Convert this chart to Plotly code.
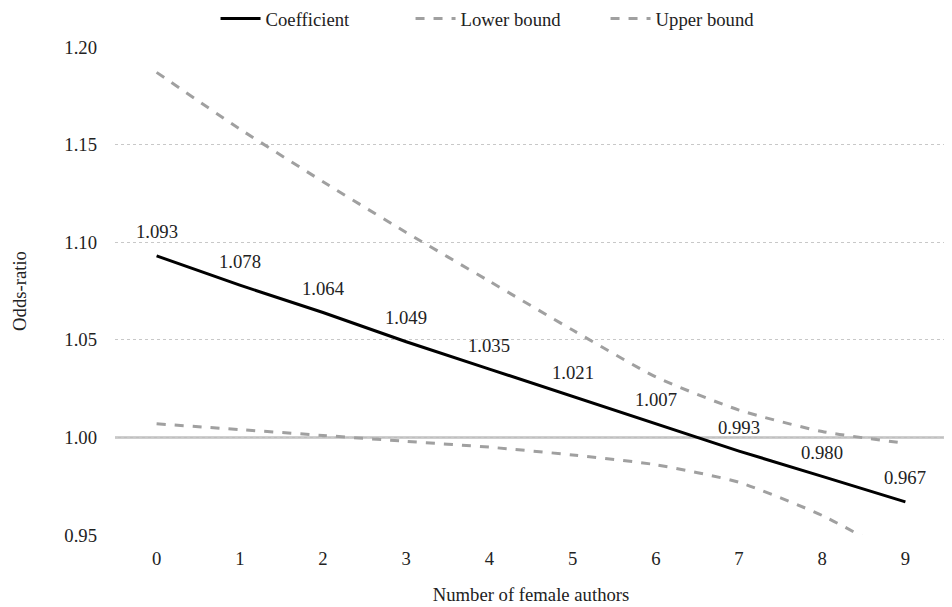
import plotly.graph_objects as go

x_labels = ["0", "1", "2", "3", "4", "5", "6", "7", "8", "9"]
coefficient = [1.093, 1.078, 1.064, 1.049, 1.035, 1.021, 1.007, 0.993, 0.980, 0.967]
lower_bound = [1.007, 1.004, 1.001, 0.998, 0.995, 0.991, 0.986, 0.977, 0.960, 0.937]
upper_bound = [1.187, 1.158, 1.131, 1.105, 1.080, 1.055, 1.031, 1.014, 1.003, 0.997]
y_ticks = [0.95, 1.00, 1.05, 1.10, 1.15, 1.20]

FONT = "Liberation Serif, Times New Roman, serif"
SIZE = 18.7
TXT = "#222222"

fig = go.Figure()
fig.add_trace(go.Scatter(
    x=x_labels, y=coefficient, name="Coefficient", mode="lines",
    line=dict(color="black", width=3),
))
fig.add_trace(go.Scatter(
    x=x_labels, y=lower_bound, name="Lower bound", mode="lines",
    line=dict(color="#A0A0A0", width=3, dash="dash", shape="spline", smoothing=0.6),
))
fig.add_trace(go.Scatter(
    x=x_labels, y=upper_bound, name="Upper bound", mode="lines",
    line=dict(color="#A0A0A0", width=3, dash="dash", shape="spline", smoothing=0.6),
))

fig.add_shape(type="line", xref="paper", x0=0, x1=1, yref="y", y0=1.0, y1=1.0,
              line=dict(color="#BFBFBF", width=2.5), layer="below")

for xv, yv in zip(x_labels, coefficient):
    fig.add_annotation(x=xv, y=yv, text=f"{yv:.3f}", showarrow=False,
                       yshift=24, font=dict(family=FONT, size=SIZE, color=TXT))

fig.update_layout(
    width=952, height=607,
    margin=dict(l=107, r=13, t=39, b=80, autoexpand=False),
    paper_bgcolor="white", plot_bgcolor="white",
    font=dict(family=FONT, size=SIZE, color=TXT),
    legend=dict(orientation="h", xref="container", x=0.218, xanchor="left",
                y=0.982, yanchor="middle", yref="container",
                font=dict(family=FONT, size=SIZE, color=TXT),
                itemwidth=40, entrywidth=140, entrywidthmode="pixels",
                tracegroupgap=0),
    showlegend=True,
)

fig.update_xaxes(
    type="category", range=[-0.5, 9.5],
    showgrid=False, showline=False, zeroline=False, ticks="",
    ticklabelstandoff=10,
    title=dict(text="Number of female authors", standoff=20,
               font=dict(family=FONT, size=SIZE, color=TXT)),
)
fig.update_yaxes(
    range=[0.95, 1.20], tickvals=y_ticks, ticktext=[f"{v:.2f}" for v in y_ticks],
    showgrid=True, gridcolor="#C8C8C8", griddash="dot", gridwidth=1,
    showline=False, zeroline=False, ticks="",
    ticklabelstandoff=17,
    title=dict(text="Odds-ratio", standoff=32,
               font=dict(family=FONT, size=SIZE, color=TXT)),
)

fig.write_html("out.html")
